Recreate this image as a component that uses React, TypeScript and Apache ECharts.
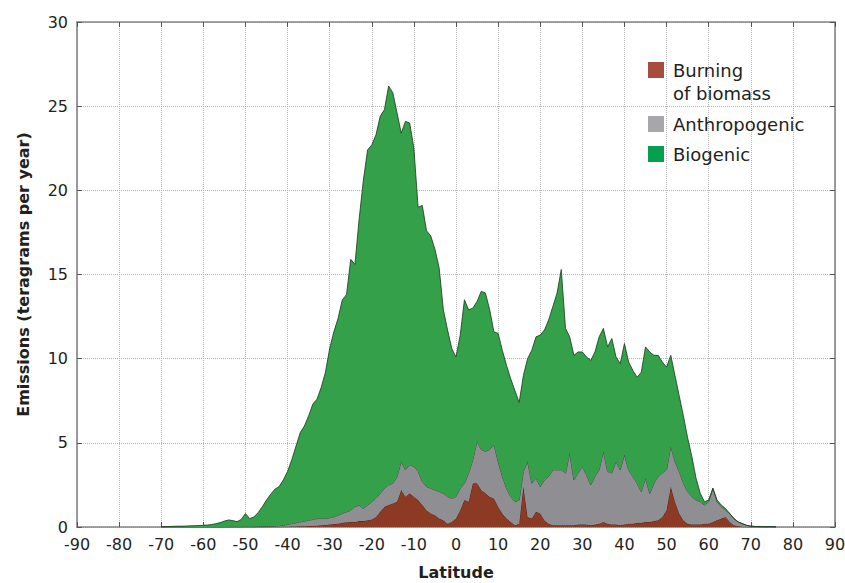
import React, { useEffect, useRef } from "react";
import * as echarts from "echarts";

// Full latitude axis (degrees), one category per degree
const AXIS_LATITUDES: number[] = Array.from({ length: 181 }, (_, i) => -90 + i);
// First latitude that the emission arrays below start at (they run to 76)
const DATA_START_LAT = -70;

// Emissions by source (teragrams per year), one value per degree from -70 to 76
const BURNING: number[] = [
  0, 0, 0, 0, 0, 0, 0, 0, 0, 0, // -70..-61
  0, 0, 0, 0, 0, 0, 0, 0, 0, 0, // -60..-51
  0, 0, 0, 0, 0, 0, 0.01, 0.01, 0.01, 0.02, // -50..-41
  0.02, 0.03, 0.03, 0.04, 0.05, 0.06, 0.07, 0.08, 0.1, 0.12, // -40..-31
  0.15, 0.18, 0.2, 0.25, 0.28, 0.3, 0.3, 0.35, 0.35, 0.4, // -30..-21
  0.45, 0.6, 0.9, 1.2, 1.3, 1.4, 1.5, 2.2, 1.8, 2.0, // -20..-11
  1.8, 1.6, 1.3, 1.0, 0.8, 0.7, 0.5, 0.4, 0.2, 0.3, // -10..-1
  0.5, 1.0, 1.6, 1.5, 2.6, 2.6, 2.2, 2.0, 1.8, 1.7, // 0..9
  1.2, 0.8, 0.5, 0.3, 0.1, 0.2, 2.4, 0.6, 0.5, 0.9, // 10..19
  0.8, 0.4, 0.2, 0.1, 0.1, 0.1, 0.1, 0.1, 0.1, 0.15, // 20..29
  0.15, 0.15, 0.1, 0.15, 0.2, 0.3, 0.2, 0.15, 0.15, 0.1, // 30..39
  0.15, 0.2, 0.2, 0.25, 0.25, 0.3, 0.3, 0.35, 0.4, 0.6, // 40..49
  1.0, 2.4, 1.5, 0.8, 0.4, 0.2, 0.15, 0.15, 0.15, 0.2, // 50..59
  0.2, 0.3, 0.4, 0.5, 0.6, 0.3, 0.1, 0.05, 0.02, 0, // 60..69
  0, 0, 0, 0, 0, 0, 0, // 70..76
];

const ANTHROPOGENIC: number[] = [
  0, 0, 0, 0, 0, 0, 0, 0, 0, 0, // -70..-61
  0, 0, 0, 0, 0, 0, 0.01, 0.01, 0.01, 0.01, // -60..-51
  0.02, 0.02, 0.02, 0.03, 0.03, 0.04, 0.04, 0.05, 0.07, 0.08, // -50..-41
  0.13, 0.17, 0.22, 0.26, 0.3, 0.34, 0.38, 0.42, 0.4, 0.38, // -40..-31
  0.4, 0.42, 0.5, 0.55, 0.62, 0.7, 0.9, 0.95, 0.75, 0.9, // -30..-21
  1.05, 1.1, 1.1, 1.1, 1.2, 1.2, 1.5, 1.7, 1.6, 1.7, // -20..-11
  1.8, 1.7, 1.4, 1.4, 1.5, 1.5, 1.6, 1.6, 1.6, 1.4, // -10..-1
  1.3, 1.3, 1.0, 1.7, 1.4, 2.5, 2.4, 2.5, 2.8, 3.2, // 0..9
  2.7, 2.2, 1.8, 1.5, 1.4, 1.4, 0.9, 3.3, 2.1, 2.0, // 10..19
  1.6, 2.4, 2.8, 3.3, 3.3, 3.3, 3.1, 4.3, 2.7, 3.05, // 20..29
  3.45, 2.95, 2.4, 2.85, 3.2, 4.2, 3.1, 3.05, 3.75, 3.3, // 30..39
  4.15, 3.2, 2.8, 2.35, 1.85, 2.6, 1.7, 2.25, 2.6, 2.6, // 40..49
  2.4, 2.4, 2.4, 2.5, 2.2, 1.9, 1.65, 1.45, 1.35, 1.1, // 50..59
  1.3, 2.0, 1.1, 0.7, 0.4, 0.5, 0.4, 0.25, 0.18, 0.1, // 60..69
  0.05, 0.03, 0.02, 0.01, 0.01, 0.01, 0, // 70..76
];

const BIOGENIC: number[] = [
  0, 0.02, 0.03, 0.04, 0.05, 0.05, 0.06, 0.07, 0.08, 0.09, // -70..-61
  0.1, 0.12, 0.15, 0.2, 0.26, 0.35, 0.41, 0.37, 0.31, 0.44, // -60..-51
  0.78, 0.48, 0.58, 0.82, 1.17, 1.56, 1.9, 2.19, 2.32, 2.7, // -50..-41
  3.15, 3.8, 4.55, 5.3, 5.65, 6.2, 6.85, 7.1, 7.8, 8.7, // -40..-31
  10.05, 11.0, 11.7, 12.7, 12.9, 14.9, 14.4, 17.0, 19.5, 21.1, // -30..-21
  21.2, 21.6, 22.4, 22.5, 23.7, 23.2, 21.6, 19.5, 20.7, 20.3, // -20..-11
  18.9, 15.7, 16.4, 15.2, 15.0, 14.3, 13.3, 10.9, 9.9, 8.9, // -10..-1
  8.3, 9.1, 10.9, 9.7, 9.0, 8.3, 9.4, 9.4, 8.3, 6.7, // 0..9
  7.6, 7.5, 7.3, 7.0, 6.6, 5.8, 5.7, 6.1, 7.9, 8.4, // 10..19
  9.0, 8.9, 9.3, 9.7, 10.5, 11.9, 8.6, 6.9, 7.4, 7.2, // 20..29
  6.8, 7.0, 7.4, 7.4, 7.9, 7.3, 7.4, 8.0, 6.2, 6.3, // 30..39
  6.6, 6.4, 6.3, 6.3, 7.1, 7.8, 8.4, 7.6, 7.2, 6.6, // 40..49
  6.1, 5.4, 5.1, 4.5, 4.0, 3.2, 2.4, 1.3, 0.5, 0.2, // 50..59
  0.1, 0, 0.1, 0.1, 0.1, 0, 0, 0, 0, 0, // 60..69
  0, 0, 0, 0, 0, 0, 0, // 70..76
];

const X_TICKS = { min: -90, max: 90, interval: 10 };
const Y_TICKS = { min: 0, max: 30, interval: 5 };

const SERIES_NAMES = ["Burning of biomass", "Anthropogenic", "Biogenic"];
const LEGEND_LINES = [["Burning", "of biomass"], ["Anthropogenic"], ["Biogenic"]];

const FILL = ["#8c3a24", "#8f8f93", "#34a049"];
const EDGE = ["#3a1a12", "#2e2e2e", "#173a1c"];
const LEGEND_COLORS = ["#a84c3f", "#a7a7ab", "#04a04f"];

const FONT = "DejaVu Sans";
const TEXT = "#231f20";

export default function App() {
  const ref = useRef<HTMLDivElement>(null);

  useEffect(() => {
    if (!ref.current) return;
    const chart = echarts.init(ref.current, undefined, { renderer: "svg" });

    const layers = [BURNING, ANTHROPOGENIC, BIOGENIC];
    const series = layers.map((vals, k) => ({
      name: SERIES_NAMES[k],
      type: "line" as const,
      stack: "emissions",
      xAxisIndex: 0,
      yAxisIndex: 0,
      symbol: "none",
      data: AXIS_LATITUDES.map((lat) => {
        const i = lat - DATA_START_LAT;
        return i >= 0 && i < vals.length ? vals[i] : null;
      }),
      lineStyle: { color: EDGE[k], width: 0.8 },
      areaStyle: { color: FILL[k], opacity: 1 },
      z: 2 + k,
    }));

    const legendGraphics: any[] = [];
    const rowTops = [62, 116, 146];
    LEGEND_LINES.forEach((lines, k) => {
      legendGraphics.push({
        type: "rect",
        z: 100,
        shape: { x: 648, y: rowTops[k], width: 16, height: 16 },
        style: { fill: LEGEND_COLORS[k] },
      });
      lines.forEach((line, j) => {
        legendGraphics.push({
          type: "text",
          z: 100,
          x: 673,
          y: rowTops[k] + 8 + j * 23,
          style: {
            text: line,
            fill: TEXT,
            fontFamily: FONT,
            fontSize: 18,
            verticalAlign: "middle",
            align: "left",
          },
        });
      });
    });

    const axisLine = { show: true, onZero: false, lineStyle: { color: "#858585", width: 1.6 } };
    const tick = { show: true, inside: true, length: 5, lineStyle: { color: "#555", width: 1 } };
    const dotted = { show: true, lineStyle: { color: "#b5b5b5", type: "dotted", width: 1 } };

    chart.setOption({
      animation: false,
      backgroundColor: "#ffffff",
      grid: {
        left: 77,
        right: 10,
        top: 22,
        bottom: 56,
        outerBoundsMode: "none",
        containLabel: false,
      },
      xAxis: [
        {
          type: "category",
          position: "bottom",
          data: AXIS_LATITUDES.map(String),
          boundaryGap: false,
          name: "Latitude",
          nameLocation: "middle",
          nameGap: 37,
          nameTextStyle: { fontFamily: FONT, fontWeight: "bold", fontSize: 16, color: TEXT },
          axisLine,
          axisTick: { ...tick, interval: 9 },
          axisLabel: { fontFamily: FONT, fontSize: 16, color: TEXT, margin: 9, interval: 9, hideOverlap: false },
          splitLine: { ...dotted, interval: 9 },
        },
        {
          type: "value",
          position: "top",
          ...X_TICKS,
          axisLine,
          axisTick: tick,
          axisLabel: { show: false },
          splitLine: { show: false },
        },
      ],
      yAxis: [
        {
          type: "value",
          position: "left",
          ...Y_TICKS,
          name: "Emissions (teragrams per year)",
          nameLocation: "middle",
          nameGap: 46,
          nameTextStyle: { fontFamily: FONT, fontWeight: "bold", fontSize: 16, color: TEXT },
          axisLine,
          axisTick: tick,
          axisLabel: { fontFamily: FONT, fontSize: 16, color: TEXT, margin: 9 },
          splitLine: dotted,
        },
        {
          type: "value",
          position: "right",
          ...Y_TICKS,
          axisLine,
          axisTick: tick,
          axisLabel: { show: false },
          splitLine: { show: false },
        },
      ],
      series,
      graphic: legendGraphics,
    });

    return () => chart.dispose();
  }, []);

  return (
    <div
      ref={ref}
      style={{ position: "fixed", left: 0, top: 0, width: 845, height: 583, background: "#fff" }}
    />
  );
}
